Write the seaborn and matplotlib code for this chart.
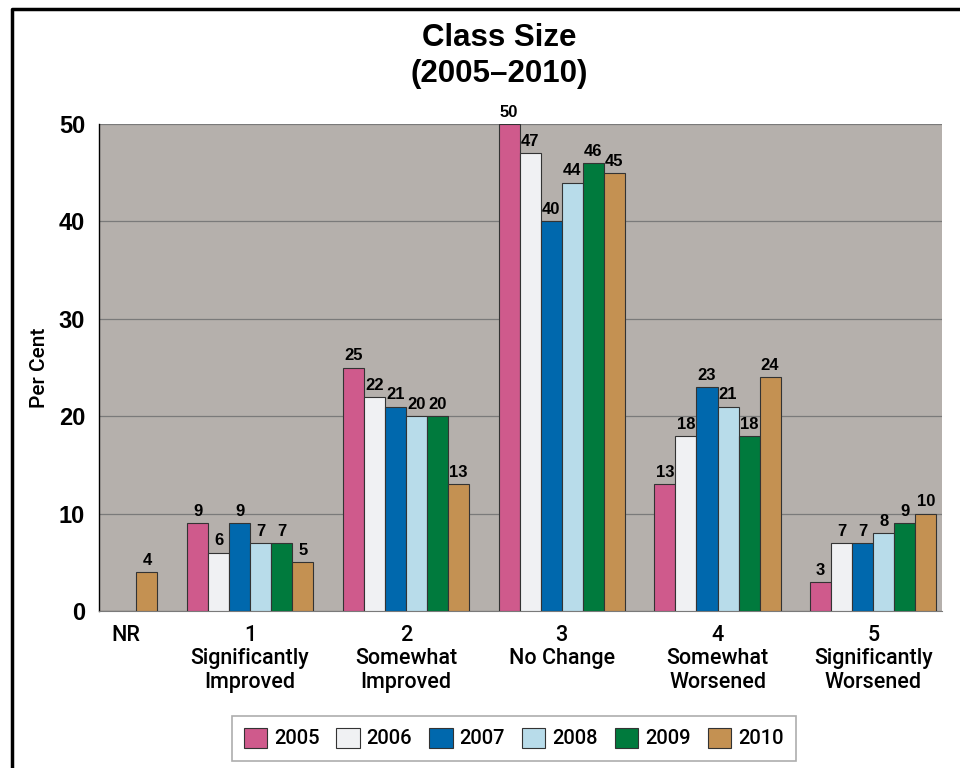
import numpy as np
import pandas as pd
import matplotlib
matplotlib.use("Agg")
import matplotlib.pyplot as plt
from matplotlib.lines import Line2D
import seaborn as sns

# data
categories = ["NR", "1\nSignificantly\nImproved", "2\nSomewhat\nImproved",
              "3\nNo Change", "4\nSomewhat\nWorsened", "5\nSignificantly\nWorsened"]
years = ["2005", "2006", "2007", "2008", "2009", "2010"]
v2005 = [0, 9, 25, 50, 13, 3]
v2006 = [0, 6, 22, 47, 18, 7]
v2007 = [0, 9, 21, 40, 23, 7]
v2008 = [0, 7, 20, 44, 21, 8]
v2009 = [0, 7, 20, 46, 18, 9]
v2010 = [4, 5, 13, 45, 24, 10]
colors = ["#cf5a8c", "#f0f1f3", "#0068ad", "#b8dcea", "#007a3d", "#c49152"]

series = [v2005, v2006, v2007, v2008, v2009, v2010]
rows = []
for yr, vals in zip(years, series):
    for cat, v in zip(categories, vals):
        rows.append({"cat": cat, "year": yr, "val": v})
df = pd.DataFrame(rows)

sns.set_style("white")
narrow = ["Roboto", "DejaVu Sans"]
plt.rcParams["font.family"] = ["Liberation Sans", "DejaVu Sans"]
for k in ["text.color", "axes.labelcolor", "xtick.color", "ytick.color"]:
    plt.rcParams[k] = "black"

fig = plt.figure(figsize=(9.6, 7.68), dpi=100)
ax = fig.add_axes([0.1031, 0.2044, 0.878, 0.634])
ax.set_facecolor("#b5b0ac")

sns.barplot(data=df, x="cat", y="val", hue="year", order=categories,
            hue_order=years, palette=colors, width=0.81, saturation=1,
            edgecolor="#333333", linewidth=0.8, ax=ax, zorder=3)

for cont, vals in zip(ax.containers, series):
    labs = [str(v) if v > 0 else "" for v in vals]
    ax.bar_label(cont, labels=labs, padding=3, fontsize=12, fontweight="bold")

ax.set_ylim(0, 50)
ax.set_xlim(0.03, 5.44)
ax.set_yticks([0, 10, 20, 30, 40, 50])
ax.set_yticklabels(["0", "10", "20", "30", "40", "50"], fontsize=17, fontweight="bold")
ax.set_xticks([0.2, 1, 2, 3, 4, 5])
ax.set_xticklabels(categories, fontsize=15.5, family=narrow, fontweight="medium",
                   linespacing=1.15)
ax.tick_params(axis="both", length=0)
ax.tick_params(axis="y", pad=10)
ax.tick_params(axis="x", pad=10)
ax.grid(axis="y", color="#7a7a7a", linewidth=0.9, zorder=1)
ax.set_axisbelow(True)
ax.set_xlabel("")
ax.set_ylabel("Per Cent", fontsize=15, family=narrow, fontweight="medium", labelpad=7)

for side in ["top", "right"]:
    ax.spines[side].set_visible(False)
ax.spines["left"].set_color("black")
ax.spines["left"].set_linewidth(1.0)
ax.spines["bottom"].set_color("#7a7a7a")

ax.get_legend().remove()
handles = [plt.Rectangle((0, 0), 1, 1, facecolor=c, edgecolor="#333333", linewidth=0.8)
           for c in colors]
leg = fig.legend(handles, years, loc="center", bbox_to_anchor=(0.535, 0.039), ncol=6,
                 frameon=True, fancybox=False, edgecolor="#999999",
                 prop={"family": narrow, "size": 14.5, "weight": "medium"},
                 handlelength=1.15, handleheight=1.15, columnspacing=0.85,
                 handletextpad=0.35, borderpad=0.6)
leg.get_frame().set_linewidth(1.2)

fig.text(0.52, 0.950, "Class Size", ha="center", va="center", fontsize=22.5, fontweight="bold")
fig.text(0.52, 0.903, "(2005\u20132010)", ha="center", va="center", fontsize=22.5, fontweight="bold")

# page frame (left and top edges)
fig.add_artist(Line2D([0.0125, 0.0125, 1.0], [0.0, 0.988, 0.988],
                      transform=fig.transFigure, color="black", linewidth=2.5))

fig.savefig("out.png", dpi=100)
